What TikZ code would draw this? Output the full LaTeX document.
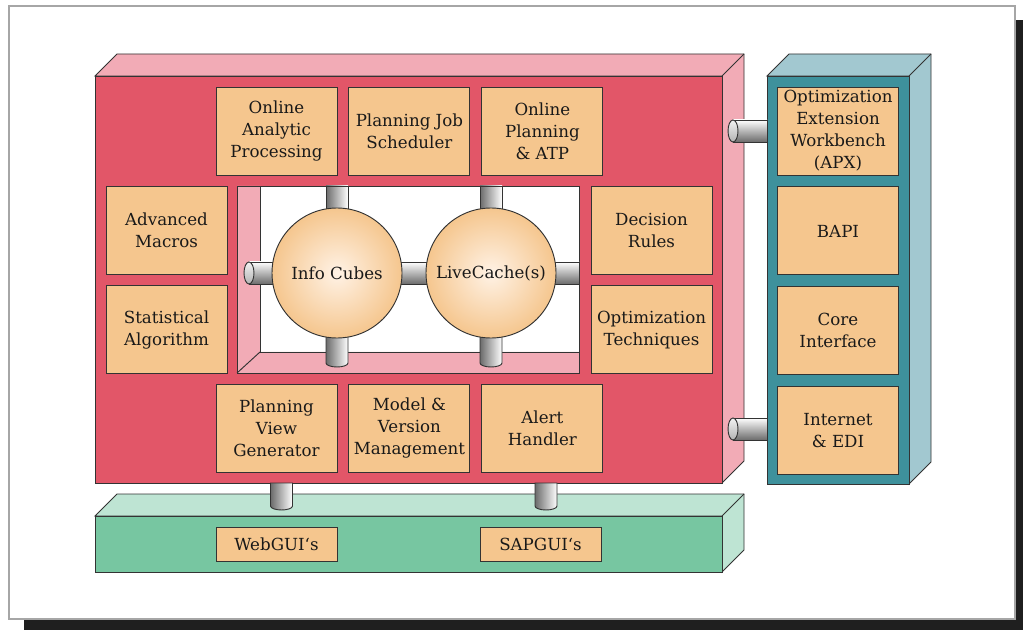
\documentclass[tikz,border=0pt]{standalone}
\usepackage{fontspec}
\setmainfont{DejaVu Serif}
\usetikzlibrary{positioning}

\definecolor{apored}{HTML}{E25668}
\definecolor{apopink}{HTML}{F2ABB6}
\definecolor{apxteal}{HTML}{3E919C}
\definecolor{apxside}{HTML}{A2C8D0}
\definecolor{guigreen}{HTML}{77C6A1}
\definecolor{guiside}{HTML}{BEE4D3}
\definecolor{modfill}{HTML}{F5C68E}
\definecolor{edge}{HTML}{333333}

\begin{document}
\begin{tikzpicture}[
  x=0.75pt, y=-0.75pt,
  every node/.style={font=\fontsize{12.5}{16.5}\selectfont, text=black!90},
  outline/.style = {draw=edge, line width=0.7pt},
  module/.style  = {outline, fill=modfill, align=center, inner sep=1pt, minimum width=90.75pt, minimum height=66pt},
  guibox/.style  = {module, minimum height=25.5pt},
  cache/.style   = {outline, circle, inner sep=0pt, minimum size=97.5pt, inner color=orange!10!white, outer color=modfill},
  hpipe/.style   = {outline, top color=white, bottom color=black!58},
  vpipe/.style   = {outline, left color=black!58, right color=white},
  pipecap/.style = {outline, top color=gray!10, bottom color=gray!60},
]
  \useasboundingbox (0,0) rectangle (1023,630);
  % page frame with drop shadow
  \fill[black!88] (24,20) rectangle (1023,630);
  \draw[fill=white, draw=gray!70, line width=1.1pt] (9,6) rectangle (1015,619);

  % the three slabs: GUI layer, APO server, APX
  \foreach \xa/\ya/\xb/\yb/\fc/\sc in {95/516/722/572/guigreen/guiside,
                                       95/76/722/483/apored/apopink,
                                       767/76/909/484/apxteal/apxside} {
    \draw[outline, fill=\sc] (\xa,\ya) -- (\xa+22,\ya-22) -- (\xb+22,\ya-22)
         -- (\xb+22,\yb-22) -- (\xb,\yb) -- (\xb,\ya) -- cycle;
    \draw[outline] (\xb,\ya) -- (\xb+22,\ya-22);
    \draw[outline, fill=\fc] (\xa,\ya) rectangle (\xb,\yb);
  }

  % opening in the middle of the server
  \draw[outline, fill=white] (237,186) rectangle (579,373);
  \draw[outline, fill=apopink] (237,186) -- (260,186) -- (260,352) -- (579,352)
       -- (579,373) -- (237,373) -- cycle;
  \draw[outline] (237,373) -- (260,352);

  % pipes lying across
  \foreach \xa/\xb/\c in {249/285/273, 395/430/273, 550/579/273, 733/767/131, 733/767/429}
    \draw[hpipe] (\xa,\c-11) rectangle (\xb,\c+11);
  \foreach \xa/\c in {249/273, 733/131, 733/429}
    \draw[pipecap] (\xa,\c) ellipse (5 and 11);
  % pipes standing upright
  \foreach \c in {337, 491}
    \draw[vpipe] (\c-11,186) rectangle (\c+11,230);
  \foreach \c/\ya/\yb in {337/320/363, 491/320/363, 281.5/483/506, 546/483/506}
    \draw[vpipe] (\c-11,\ya) -- (\c-11,\yb) arc[start angle=180, end angle=0, x radius=11, y radius=4]
         -- (\c+11,\ya) -- cycle;

  \node[cache] (cubes)     at (337,273) {Info Cubes};
  \node[cache] (livecache) at (491,273) {LiveCache(s)};

  \node[module] (olap) at (276.5,131)          {Online\\Analytic\\Processing};
  \node[module, right=8.25pt of olap] (jobs)   {Planning Job\\Scheduler};
  \node[module, right=8.25pt of jobs] (atp)    {Online\\Planning\\\& ATP};
  \node[module] (macros) at (166.5,230)        {Advanced\\Macros};
  \node[module, below=8.25pt of macros] (stat) {Statistical\\Algorithm};
  \node[module] (rules) at (651.5,230)         {Decision\\Rules};
  \node[module, below=8.25pt of rules] (optim) {Optimization\\Techniques};
  \node[module] (viewgen) at (276.5,428)       {Planning\\View\\Generator};
  \node[module, right=8.25pt of viewgen] (versions) {Model \&\\Version\\Management};
  \node[module, right=8.25pt of versions] (alerts)  {Alert\\Handler};

  \node[module] (apx) at (838,131)             {Optimization\\Extension\\Workbench\\(APX)};
  \node[module, below=8.25pt of apx] (bapi)    {BAPI};
  \node[module, below=8.25pt of bapi] (core)   {Core\\Interface};
  \node[module, below=8.25pt of core] (edi)    {Internet\\\& EDI};

  \node[guibox] (webgui) at (276.5,544) {WebGUI‘s};
  \node[guibox] (sapgui) at (540.5,544) {SAPGUI‘s};
\end{tikzpicture}
\end{document}
